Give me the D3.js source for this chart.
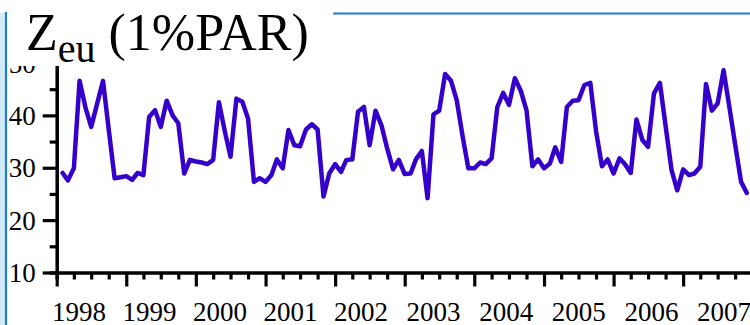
<!DOCTYPE html>
<html>
<head>
<meta charset="utf-8">
<script src="https://cdn.jsdelivr.net/npm/d3@7"></script>
<style>
    body { margin: 0; background: #ffffff; }
    svg { display: block; }
</style>
</head>
<body>
<div id="chart-area"></div>
<script>

// DATA (monthly Zeu, m)
// =================

var startMonth = new Date(1998, 1, 1);   // first value = Feb 1998

var z1998 = [29.0, 27.6, 29.9, 46.6, 41.5, 37.8, 42.2, 46.6, 37.3, 28.0, 28.2];
var z1999 = [28.4, 27.7, 29.0, 28.6, 39.7, 41.0, 37.8, 42.8, 40.0, 38.5, 28.9, 31.5];
var z2000 = [31.2, 31.0, 30.7, 31.5, 42.5, 37.0, 32.1, 43.2, 42.6, 39.4, 27.3, 28.0];
var z2001 = [27.3, 28.6, 31.6, 29.9, 37.2, 34.3, 34.1, 37.3, 38.3, 37.3, 24.5, 28.9];
var z2002 = [30.7, 29.2, 31.5, 31.6, 40.7, 41.6, 34.3, 40.9, 38.1, 33.7, 29.7, 31.5];
var z2003 = [28.8, 28.9, 31.6, 33.2, 24.2, 40.2, 40.9, 47.9, 46.6, 42.9, 36.0, 29.9];
var z2004 = [29.9, 31.0, 30.7, 31.8, 41.6, 44.3, 42.0, 47.1, 44.7, 41.0, 30.3, 31.6];
var z2005 = [29.9, 30.8, 33.9, 31.1, 41.6, 42.8, 42.9, 45.8, 46.2, 37.0, 30.3, 31.6];
var z2006 = [28.9, 31.8, 30.7, 29.0, 39.2, 35.3, 34.0, 44.2, 46.2, 38.0, 29.6, 25.7];
var z2007 = [29.7, 28.6, 28.9, 30.2, 46.0, 40.9, 42.3, 48.6, 41.5, 34.4, 27.3, 25.2];

var yearLabels = ['1998', '1999', '2000', '2001', '2002', '2003', '2004', '2005', '2006', '2007'];
var yTickValues = [10, 15, 20, 25, 30, 35, 40, 45, 50];
var yLabelValues = [10, 20, 30, 40, 50];

var values = [].concat(z1998, z1999, z2000, z2001, z2002, z2003, z2004, z2005, z2006, z2007);
var data = values.map(function (v, i) {
    return { date: d3.timeMonth.offset(startMonth, i), value: v };
});

// CANVAS
// =================

var width = 750, height = 325;

var svg = d3.select('#chart-area')
    .append('svg')
        .attr('width', width)
        .attr('height', height);

// slide frame
svg.append('rect')
    .attr('x', 0).attr('y', 13)
    .attr('width', 6).attr('height', height - 13)
    .attr('fill', '#d3eaf8');

svg.append('line')
    .attr('x1', 6).attr('x2', 6)
    .attr('y1', 12).attr('y2', height)
    .attr('stroke', '#1e7fd0')
    .attr('stroke-width', 2.2);

svg.append('line')
    .attr('x1', 6).attr('x2', width)
    .attr('y1', 13.5).attr('y2', 13.5)
    .attr('stroke', '#1e7fd0')
    .attr('stroke-width', 2);

// SCALES
// =================

var x = d3.scaleTime()
    .domain([new Date(1998, 0, 1), new Date(2008, 0, 1)])
    .range([56.7, 752.7]);

var y = d3.scaleLinear()
    .domain([10, 50])
    .range([272.5, 63]);

// year labels drift a little right of the Jan ticks in the original
var labelX = d3.scaleLinear()
    .domain([1998, 2002, 2007])
    .range([52, 334, 697]);

var g = svg.append('g');

// AXES
// =================

var xTicks = d3.timeMonth.every(3).range(new Date(1998, 0, 1), new Date(2008, 0, 2));

var xAxisCall = d3.axisBottom(x)
    .tickValues(xTicks)
    .tickSize(7)
    .tickFormat('');

var xAxis = g.append('g')
    .attr('class', 'x axis')
    .attr('transform', 'translate(0,' + y(10) + ')')
    .call(xAxisCall);

xAxis.selectAll('.tick line')
    .attr('y2', function (d) { return d.getMonth() === 0 ? 14 : 7; });

xAxis.selectAll('.year-label')
    .data(yearLabels)
    .enter()
    .append('text')
        .attr('class', 'year-label')
        .attr('x', function (d) { return labelX(+d); })
        .attr('y', 48)
        .attr('text-anchor', 'start')
        .attr('fill', '#000')
        .text(function (d) { return d; });

var yAxisCall = d3.axisLeft(y)
    .tickValues(yTickValues)
    .tickSize(7)
    .tickPadding(8)
    .tickFormat(function (d) {
        return yLabelValues.indexOf(d) >= 0 ? d : '';
    });

var yAxis = g.append('g')
    .attr('class', 'y axis')
    .attr('transform', 'translate(' + x(new Date(1998, 0, 1)) + ',0)')
    .call(yAxisCall);

yAxis.selectAll('.tick line')
    .attr('x2', function (d) { return d % 10 === 0 ? -14 : -7; });

yAxis.selectAll('.tick text')
    .attr('x', -21)
    .attr('dy', '0.34em');

g.selectAll('.axis path.domain')
    .attr('stroke', '#000')
    .attr('stroke-width', 3.5);

g.selectAll('.axis .tick line')
    .attr('stroke', '#000')
    .attr('stroke-width', 3.2);

g.selectAll('.axis text')
    .attr('font-family', '"Liberation Serif", "Times New Roman", serif')
    .attr('font-size', '27px');

// LINE
// =================

var line = d3.line()
    .x(function (d) { return x(d.date); })
    .y(function (d) { return y(d.value); });

g.append('path')
    .datum(data)
    .attr('fill', 'none')
    .attr('stroke', '#3600cc')
    .attr('stroke-width', 4.5)
    .attr('stroke-linejoin', 'round')
    .attr('stroke-linecap', 'round')
    .attr('d', line);

// TITLE BOX
// =================

svg.append('rect')
    .attr('x', 7.2).attr('y', 0)
    .attr('width', 326).attr('height', 66)
    .attr('fill', '#ffffff');

var title = svg.append('text')
    .attr('x', 26)
    .attr('y', 50)
    .attr('font-family', '"Liberation Serif", "Times New Roman", serif')
    .attr('font-size', '52px')
    .attr('fill', '#000');

title.append('tspan').text('Z');
title.append('tspan')
    .attr('font-size', '40px')
    .attr('dy', 12)
    .text('eu');
title.append('tspan')
    .attr('dy', -12)
    .text('\u00a0(1%PAR)');

</script>
</body>
</html>
